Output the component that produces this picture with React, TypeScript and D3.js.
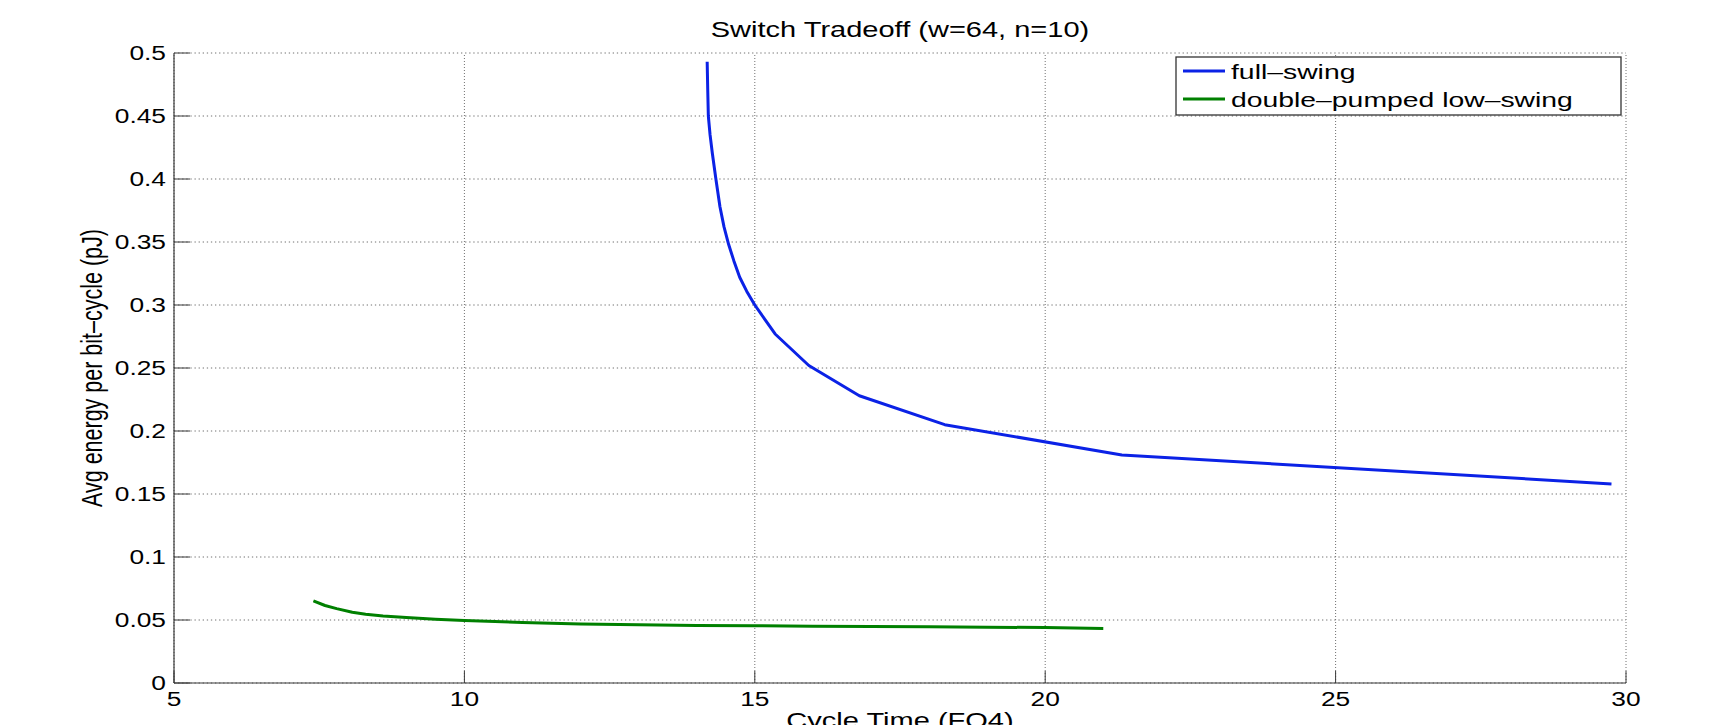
import React from "react";
import * as d3 from "d3";

const fullSwingX = [14.18, 14.19, 14.2, 14.23, 14.27, 14.33, 14.4, 14.47, 14.55, 14.64, 14.74, 14.86, 15.0, 15.35, 15.93, 16.8, 18.27, 21.32, 29.75];
const fullSwingY = [0.493, 0.47, 0.45, 0.435, 0.42, 0.4, 0.378, 0.362, 0.348, 0.335, 0.322, 0.311, 0.3, 0.277, 0.252, 0.228, 0.205, 0.181, 0.158];

const lowSwingX = [7.4, 7.6, 7.8, 8.07, 8.3, 8.6, 9.0, 9.5, 10, 11, 12, 13, 14, 15, 16, 17, 18, 19, 20, 21];
const lowSwingY = [0.0651, 0.0615, 0.059, 0.0561, 0.0546, 0.0532, 0.052, 0.0506, 0.0497, 0.0481, 0.0469, 0.0462, 0.0457, 0.0454, 0.0451, 0.0449, 0.0446, 0.0443, 0.044, 0.0433];

const xTicks = [5, 10, 15, 20, 25, 30];
const yTicks = [0, 0.05, 0.1, 0.15, 0.2, 0.25, 0.3, 0.35, 0.4, 0.45, 0.5];
const yTickLabels = ["0", "0.05", "0.1", "0.15", "0.2", "0.25", "0.3", "0.35", "0.4", "0.45", "0.5"];
const seriesNames = ["full\u2013swing", "double\u2013pumped low\u2013swing"];
const seriesColors = ["#0b22e6", "#008000"];

const W = 1729;
const H = 725;
const SX = 1.35;
const FONT = "'Liberation Sans', Arial, Helvetica, sans-serif";

export default function App() {
  const x = d3.scaleLinear().domain([5, 30]).range([174, 1626]);
  const y = d3.scaleLinear().domain([0, 0.5]).range([683, 53]);
  const line = d3
    .line<[number, number]>()
    .x((d) => x(d[0]))
    .y((d) => y(d[1]));
  const fs = fullSwingX.map((v, i) => [v, fullSwingY[i]] as [number, number]);
  const ls = lowSwingX.map((v, i) => [v, lowSwingY[i]] as [number, number]);
  const [x0, x1] = x.range();
  const [y0, y1] = y.range();
  const axisColor = "#3a3a3a";
  const gridColor = "#707070";

  const stretchText = (tx: number, ty: number, txt: string, size: number, anchor: string, extra = "") => (
    <text
      transform={`translate(${tx},${ty}) scale(${SX},1) ${extra}`}
      fontSize={size}
      fontFamily={FONT}
      textAnchor={anchor}
      fill="#000"
    >
      {txt}
    </text>
  );

  return (
    <svg
      width={W}
      height={H}
      viewBox={`0 0 ${W} ${H}`}
      style={{ position: "absolute", left: 0, top: 0, display: "block", background: "#fff" }}
    >
      <rect x={0} y={0} width={W} height={H} fill="#fff" />
      {/* grid */}
      {yTicks.map((t) => (
        <line
          key={"gy" + t}
          x1={x0}
          x2={x1}
          y1={y(t)}
          y2={y(t)}
          stroke={gridColor}
          strokeWidth={1}
          strokeDasharray="1.3 2.8"
        />
      ))}
      {xTicks.map((t) => (
        <line
          key={"gx" + t}
          x1={x(t)}
          x2={x(t)}
          y1={y0}
          y2={y1}
          stroke={gridColor}
          strokeWidth={1}
          strokeDasharray="1 2"
        />
      ))}
      {/* ticks */}
      {yTicks.map((t) => (
        <line key={"ty" + t} x1={x0} x2={x0 + 16} y1={y(t)} y2={y(t)} stroke={axisColor} strokeWidth={1} />
      ))}
      {xTicks.map((t) => (
        <line key={"tx" + t} x1={x(t)} x2={x(t)} y1={y0} y2={y0 - 12} stroke={axisColor} strokeWidth={1} />
      ))}
      {/* axes */}
      <line x1={x0} x2={x1} y1={y0} y2={y0} stroke={axisColor} strokeWidth={1.2} />
      <line x1={x0} x2={x0} y1={y0} y2={y1} stroke={axisColor} strokeWidth={1.2} />
      {/* tick labels */}
      {yTicks.map((t, i) =>
        <g key={"ly" + t}>{stretchText(x0 - 8, y(t) + 7, yTickLabels[i], 19.5, "end")}</g>
      )}
      {xTicks.map((t) => (
        <g key={"lx" + t}>{stretchText(x(t), 706, String(t), 19.5, "middle")}</g>
      ))}
      {/* series */}
      <path d={line(ls) || ""} fill="none" stroke={seriesColors[1]} strokeWidth={3} strokeLinejoin="round" />
      <path d={line(fs) || ""} fill="none" stroke={seriesColors[0]} strokeWidth={3} strokeLinejoin="round" />
      {/* title & labels */}
      {stretchText((x0 + x1) / 2, 37, "Switch Tradeoff (w=64, n=10)", 21.5, "middle")}
      {stretchText((x0 + x1) / 2, 728, "Cycle Time (FO4)", 21.5, "middle")}
      {stretchText(102, (y0 + y1) / 2, "Avg energy per bit\u2013cycle (pJ)", 21.5, "middle", "rotate(-90)")}
      {/* legend */}
      <rect x={1176} y={57} width={445} height={58} fill="#fff" stroke="#333" strokeWidth={1.3} />
      {seriesNames.map((n, i) => (
        <g key={n}>
          <line x1={1183} x2={1225} y1={71 + i * 28} y2={71 + i * 28} stroke={seriesColors[i]} strokeWidth={3} />
          {stretchText(1231, 79 + i * 28, n, 21, "start")}
        </g>
      ))}
    </svg>
  );
}
